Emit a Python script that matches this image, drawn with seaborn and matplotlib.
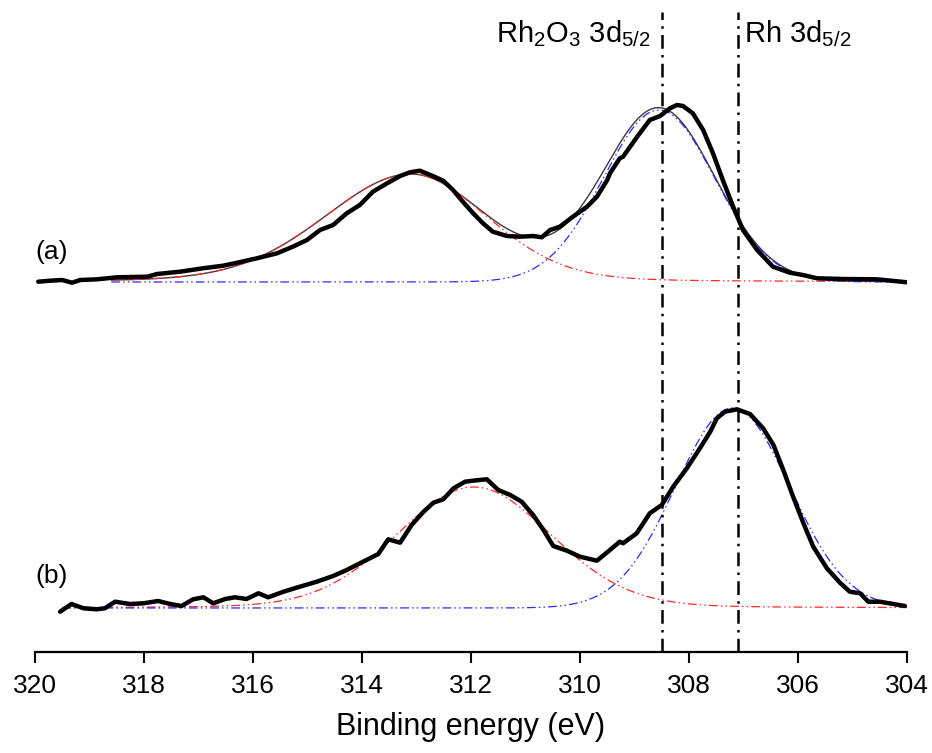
import numpy as np
import pandas as pd
import matplotlib
matplotlib.use("Agg")
import matplotlib.pyplot as plt
import seaborn as sns

# ---- Rh 3d spectra (binding energy in eV, intensity in a.u. above each baseline) ----
energy_a = [319.94, 319.72, 319.50, 319.32, 319.17, 318.86, 318.50, 317.94, 317.76, 317.34,
            316.92, 316.55, 316.29, 315.93, 315.56, 315.27, 315.01, 314.77, 314.53, 314.28,
            314.04, 313.80, 313.54, 313.30, 313.12, 312.94, 312.70, 312.51, 312.33, 312.15,
            311.96, 311.78, 311.60, 311.34, 311.10, 310.86, 310.70, 310.55, 310.37, 310.13,
            309.87, 309.69, 309.50, 309.45, 309.27, 309.21, 308.95, 308.72, 308.53, 308.35,
            308.22, 308.11, 307.93, 307.74, 307.56, 307.38, 307.19, 307.01, 306.75, 306.46,
            306.15, 305.91, 305.65, 305.17, 304.55, 304.00]
counts_a = [0.3, 1.3, 2.0, -0.7, 2.0, 2.7, 4.7, 5.3, 8.0, 10.3,
            13.7, 16.3, 19.3, 23.7, 28.7, 35.3, 42.0, 52.0, 57.0, 68.7,
            77.0, 90.3, 98.7, 106.0, 109.7, 111.3, 106.0, 101.3, 92.0, 80.3,
            68.7, 58.7, 50.3, 46.0, 45.3, 46.0, 44.7, 52.0, 55.3, 65.3,
            75.3, 85.3, 102.0, 108.7, 123.7, 125.3, 145.3, 162.0, 166.0, 173.7,
            177.0, 176.0, 168.7, 152.0, 128.7, 102.0, 75.3, 52.0, 32.0, 15.3,
            9.3, 7.0, 3.7, 3.0, 2.7, -0.3]

energy_b = [319.54, 319.33, 319.11, 318.87, 318.72, 318.53, 318.26, 318.01, 317.74, 317.52,
            317.31, 317.10, 316.91, 316.73, 316.51, 316.33, 316.12, 315.90, 315.72, 315.44,
            315.14, 314.83, 314.53, 314.28, 313.98, 313.70, 313.52, 313.30, 313.09, 312.87,
            312.69, 312.51, 312.32, 312.11, 311.90, 311.71, 311.50, 311.28, 311.07, 310.86,
            310.67, 310.49, 310.24, 310.00, 309.69, 309.51, 309.27, 309.21, 308.96, 308.72,
            308.50, 308.29, 308.04, 307.80, 307.61, 307.49, 307.34, 307.12, 306.88, 306.64,
            306.45, 306.27, 306.09, 305.90, 305.72, 305.47, 305.23, 305.05, 304.86, 304.71,
            304.50, 304.25, 304.04]
counts_b = [-3.7, 4.0, -0.3, -1.3, -0.3, 6.3, 4.0, 4.7, 7.0, 4.0,
            2.0, 8.7, 10.7, 4.7, 9.0, 10.7, 9.0, 14.7, 10.7, 16.3,
            21.3, 26.3, 32.0, 38.0, 46.3, 54.0, 68.7, 65.3, 83.0, 96.3,
            105.3, 108.7, 119.7, 126.3, 127.7, 128.7, 118.0, 113.0, 106.3, 93.0,
            78.0, 62.0, 57.3, 51.3, 47.3, 55.3, 66.3, 64.7, 74.7, 94.7,
            103.0, 121.3, 139.7, 159.7, 176.3, 189.7, 196.3, 198.7, 194.0, 179.7,
            163.0, 138.0, 111.3, 84.7, 61.3, 39.7, 25.3, 16.3, 14.7, 6.3,
            6.3, 4.0, 2.0]

# ---- fitted peaks: centre (eV), height, FWHM high-BE side, FWHM low-BE side, Lorentzian fraction ----
peak_a_3d32 = (313.10, 108.0, 3.75, 3.30, 0.15)
peak_a_3d52 = (308.55, 172.0, 2.40, 2.40, 0.00)
peak_b_3d32 = (311.95, 121.0, 3.35, 3.35, 0.10)
peak_b_3d52 = (307.20, 200.0, 2.47, 2.47, 0.00)
fit_range_a = (318.6, 304.0)
fit_range_b = (319.5, 304.0)

ref_energies = [308.5, 307.1]
ref_labels = [r"Rh$_2$O$_3$ 3d$_{5/2}$", r"Rh 3d$_{5/2}$"]
spectrum_labels = ["(a)", "(b)"]
x_ticks = [320, 318, 316, 314, 312, 310, 308, 306, 304]
x_label = "Binding energy (eV)"

# vertical stacking of the two spectra
offset_a = 370.0
offset_b = 44.0


def pseudo_voigt(e, centre, height, fw_hi, fw_lo, eta):
    half = np.where(e >= centre, fw_hi, fw_lo) / 2.0
    u = (e - centre) / half
    return height * ((1 - eta) * np.exp(-np.log(2) * u ** 2) + eta / (1 + u ** 2))


sns.set_theme(style="white")
plt.rcParams["font.family"] = ["Liberation Sans", "DejaVu Sans"]
plt.rcParams["mathtext.fontset"] = "custom"
plt.rcParams["mathtext.rm"] = "Liberation Sans"
plt.rcParams["mathtext.it"] = "Liberation Sans"
plt.rcParams["text.color"] = "black"
plt.rcParams["axes.labelcolor"] = "black"
plt.rcParams["xtick.color"] = "black"

fig = plt.figure(figsize=(9.32, 7.53), dpi=100)
ax = fig.add_axes([35 / 932, 1 - 652 / 753, 872 / 932, 640 / 753])

comp_style = dict(linestyle=(0, (7, 2.5, 1.2, 2.5, 1.2, 2.5)), linewidth=0.9)

def draw_fit(peaks, rng, offset, envelope):
    e = np.linspace(rng[0], rng[1], 500)
    red = pseudo_voigt(e, *peaks[0])
    blue = pseudo_voigt(e, *peaks[1])
    df = pd.DataFrame({"E": e, "red": red + offset, "blue": blue + offset,
                       "sum": red + blue + offset})
    if envelope:
        sns.lineplot(data=df, x="E", y="sum", ax=ax, color="#3a3a3a", linewidth=1.0,
                     estimator=None, sort=False)
    sns.lineplot(data=df, x="E", y="red", ax=ax, color="#ff2a2a", estimator=None,
                 sort=False, **comp_style)
    sns.lineplot(data=df, x="E", y="blue", ax=ax, color="#2a2aff", estimator=None,
                 sort=False, **comp_style)


draw_fit((peak_a_3d32, peak_a_3d52), fit_range_a, offset_a, True)
draw_fit((peak_b_3d32, peak_b_3d52), fit_range_b, offset_b, False)

spec_a = pd.DataFrame({"E": energy_a, "I": np.array(counts_a) + offset_a})
spec_b = pd.DataFrame({"E": energy_b, "I": np.array(counts_b) + offset_b})
for spec in (spec_a, spec_b):
    sns.lineplot(data=spec, x="E", y="I", ax=ax, color="black", linewidth=3.2,
                 estimator=None, sort=False, solid_joinstyle="round",
                 solid_capstyle="round")

for xe in ref_energies:
    ax.axvline(xe, color="black", linewidth=1.8,
               linestyle=(0, (5.5, 2.5, 1, 2.5)))

ax.text(ref_energies[0] + 0.2, 618, ref_labels[0], ha="right", va="center", fontsize=21)
ax.text(ref_energies[1] - 0.1, 618, ref_labels[1], ha="left", va="center", fontsize=21)
ax.text(320, 400, spectrum_labels[0], ha="left", va="center", fontsize=19)
ax.text(320, 76, spectrum_labels[1], ha="left", va="center", fontsize=19)

ax.set_xlim(320, 304)
ax.set_ylim(0, 640)
ax.set_xticks(x_ticks)
ax.set_xticklabels([str(t) for t in x_ticks], fontsize=19)
ax.set_xticks(np.arange(319, 304, 2), minor=True)
ax.set_yticks([])
ax.set_xlabel(x_label, fontsize=22, labelpad=10)
ax.set_ylabel("")
for side in ("left", "right", "top"):
    ax.spines[side].set_visible(False)
ax.spines["bottom"].set_linewidth(1.6)
ax.spines["bottom"].set_color("black")
ax.tick_params(axis="x", which="major", direction="out", length=8, width=1.5,
               color="black", labelcolor="black", pad=8, bottom=True)
ax.tick_params(axis="x", which="minor", direction="out", length=5, width=1.5,
               color="black", bottom=True)
ax.patch.set_alpha(0)

fig.savefig("out.png", dpi=100)
